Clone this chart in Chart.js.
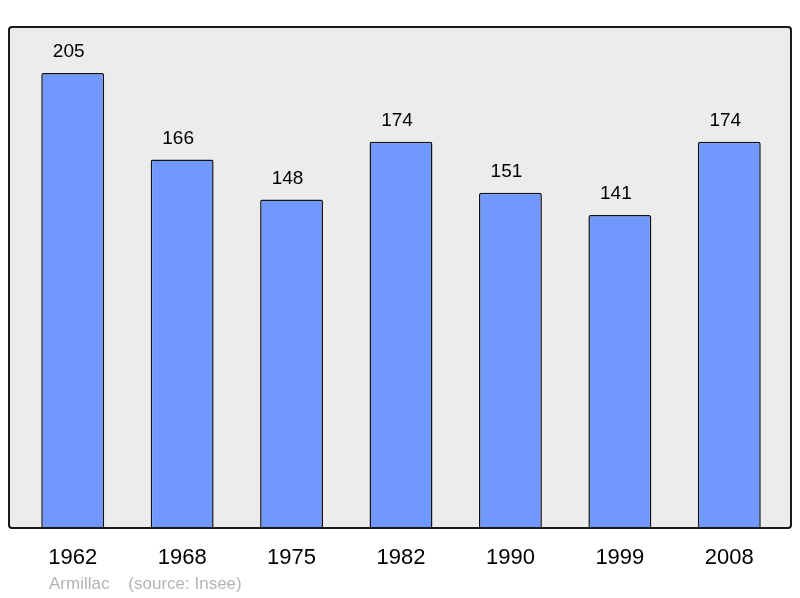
<!DOCTYPE html>
<html>
<head>
<meta charset="utf-8">
<script src="https://cdn.jsdelivr.net/npm/chart.js@4"></script>
<style>
  body { margin: 0; background: #ffffff; }
  #wrap { width: 800px; height: 598px; }
</style>
</head>
<body>
<div id="wrap"><canvas id="popChart" width="800" height="598"></canvas></div>
<script>
const years = ['1962', '1968', '1975', '1982', '1990', '1999', '2008'];
const population = [205, 166, 148, 174, 151, 141, 174];
const footerText = 'Armillac    (source: Insee)';

// grey panel with dark frame behind the bars
const panelPlugin = {
    id: 'panel',
    beforeDraw(chart) {
        const { ctx, chartArea } = chart;
        const x0 = chartArea.left - 9, x1 = chartArea.right + 7;
        const y0 = chartArea.top, y1 = chartArea.bottom;
        ctx.save();
        ctx.beginPath();
        ctx.roundRect(x0, y0, x1 - x0, y1 - y0, 3);
        ctx.fillStyle = '#ececec';
        ctx.fill();
        ctx.restore();
    },
    afterDatasetsDraw(chart) {
        const { ctx, chartArea } = chart;
        const x0 = chartArea.left - 9, x1 = chartArea.right + 7;
        const y0 = chartArea.top, y1 = chartArea.bottom;
        ctx.save();
        ctx.beginPath();
        ctx.roundRect(x0, y0, x1 - x0, y1 - y0, 3);
        ctx.lineWidth = 2;
        ctx.strokeStyle = '#1a1a1a';
        ctx.stroke();

        // values above bars (slightly left of centre, as in the original)
        const meta = chart.getDatasetMeta(0);
        ctx.fillStyle = '#000000';
        ctx.font = '19px "Liberation Sans", Arial, sans-serif';
        ctx.textAlign = 'center';
        ctx.textBaseline = 'middle';
        meta.data.forEach((bar, i) => {
            ctx.fillText(String(population[i]), bar.x - 4, bar.y - 21);
        });

        // footer
        ctx.fillStyle = '#b4b4b4';
        ctx.font = '17px "Liberation Sans", Arial, sans-serif';
        ctx.textAlign = 'left';
        ctx.fillText(footerText, 49, 584);
        ctx.restore();
    }
};

new Chart(document.getElementById('popChart'), {
    type: 'bar',
    data: {
        labels: years,
        datasets: [{
            data: population,
            backgroundColor: '#7098ff',
            borderColor: '#111111',
            borderWidth: 1.5,
            borderRadius: 2,
            borderSkipped: 'bottom',
            barPercentage: 0.575,
            categoryPercentage: 1
        }]
    },
    options: {
        responsive: false,
        animation: false,
        devicePixelRatio: 1,
        layout: { padding: { left: 18, right: 16, top: 27, bottom: 0 } },
        plugins: {
            legend: { display: false },
            tooltip: { enabled: false }
        },
        scales: {
            x: {
                grid: { display: false, drawTicks: false },
                border: { display: false },
                ticks: {
                    color: '#000000',
                    padding: 17,
                    font: { size: 22, family: '"Liberation Sans", Arial, sans-serif' }
                },
                afterFit(scale) { scale.height = 70; }
            },
            y: {
                display: false,
                min: 0,
                max: 225.7
            }
        }
    },
    plugins: [panelPlugin]
});
</script>
</body>
</html>
